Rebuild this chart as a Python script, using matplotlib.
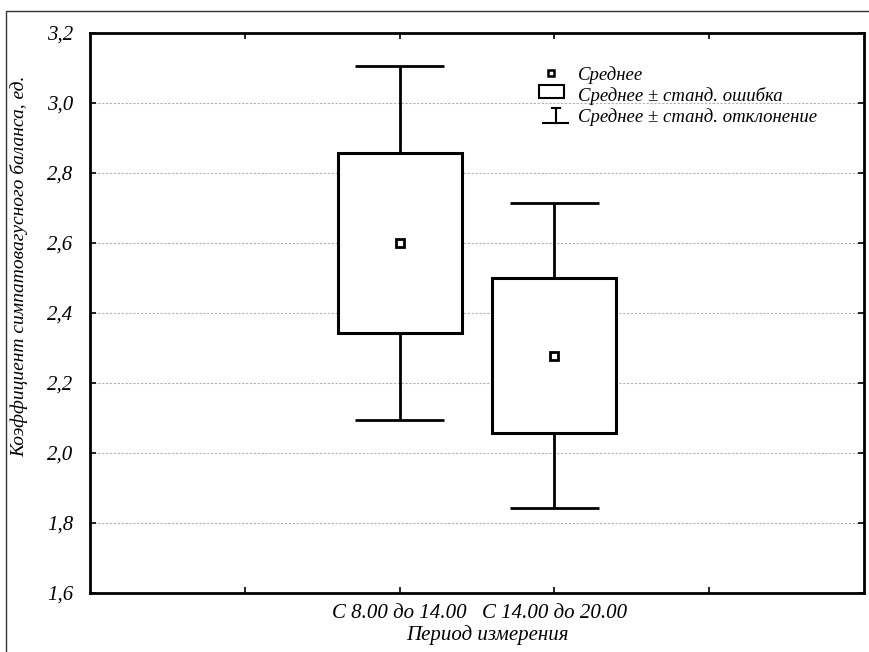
import matplotlib
matplotlib.use('Agg')
import matplotlib.pyplot as plt
from matplotlib.patches import Rectangle
from matplotlib.lines import Line2D

plt.rcParams['font.family'] = ['Liberation Serif', 'DejaVu Serif']
plt.rcParams['font.style'] = 'italic'

# --- данные (среднее, ошибка среднего, стандартное отклонение) ---
categories = ['С 8.00 до 14.00', 'С 14.00 до 20.00']
positions = [2, 3]
means = [2.600, 2.278]
se = [0.256, 0.222]
sd = [0.506, 0.436]
y_ticks = [1.6, 1.8, 2.0, 2.2, 2.4, 2.6, 2.8, 3.0, 3.2]
y_tick_labels = ['1,6', '1,8', '2,0', '2,2', '2,4', '2,6', '2,8', '3,0', '3,2']
legend_labels = ['Среднее', 'Среднее ± станд. ошибка', 'Среднее ± станд. отклонение']

fig = plt.figure(figsize=(8.7, 6.52), dpi=100)
ax = fig.add_axes([90 / 870, 1 - 593 / 652, 774 / 870, 560 / 652])

# рамка вокруг всего рисунка
fig.patches.append(Rectangle((6 / 870, -0.2), 1.2, 1.2 - 11 / 652, transform=fig.transFigure,
                             fill=False, edgecolor='#333333', linewidth=1.0))

# боксы: среднее ± ошибка
for x, m, e in zip(positions, means, se):
    ax.bar(x, 2 * e, bottom=m - e, width=0.8, facecolor='white', edgecolor='black',
           linewidth=2.2, zorder=3)

# усы: среднее ± отклонение
cap = 0.285
for x, m, e, s in zip(positions, means, se, sd):
    ax.vlines(x, m + e, m + s, color='black', linewidth=2.0, zorder=2)
    ax.vlines(x, m - s, m - e, color='black', linewidth=2.0, zorder=2)
    ax.hlines([m + s, m - s], x - cap, x + cap, color='black', linewidth=2.0, zorder=2)

ax.plot(positions, means, linestyle='none', marker='s', markersize=5.5,
        markerfacecolor='white', markeredgecolor='black', markeredgewidth=2.0, zorder=4)

ax.set_xlim(0, 5)
ax.set_ylim(1.6, 3.2)
ax.set_yticks(y_ticks)
ax.set_yticklabels(y_tick_labels, fontsize=15, fontstyle='italic')
ax.set_xticks([1, 2, 3, 4])
ax.set_xticklabels(['', categories[0], categories[1], ''], fontsize=15, fontstyle='italic')
ax.tick_params(direction='in', length=4, width=1.2, top=True, right=True)
ax.tick_params(axis='y', pad=12)
ax.tick_params(axis='x', pad=8)

ax.yaxis.grid(True, linestyle=(0, (2, 1.5)), color='#b0b0b0', linewidth=0.8)
ax.set_axisbelow(True)
for sp in ax.spines.values():
    sp.set_linewidth(2.0)

ax.set_ylabel('Коэффициент симпатовагусного баланса, ед.', fontsize=14, fontstyle='italic')
ax.yaxis.set_label_coords(-0.080, 0.584)
ax.set_xlabel('Период измерения', fontsize=15, fontstyle='italic')
ax.xaxis.set_label_coords(0.513, -0.058)

# легенда
t = ax.transAxes
def fx(px):
    return (px - 90) / 774
def fy(py):
    return (593 - py) / 560

ax.plot([fx(551)], [fy(73)], transform=t, marker='s', markersize=5,
        markerfacecolor='white', markeredgecolor='black', markeredgewidth=1.8, clip_on=False)
ax.add_patch(Rectangle((fx(539), fy(98)), fx(564) - fx(539), fy(85) - fy(98), transform=t,
                       facecolor='white', edgecolor='black', linewidth=1.5))
ax.add_line(Line2D([fx(552), fx(560)], [fy(108), fy(108)], transform=t, color='black', linewidth=1.5))
ax.add_line(Line2D([fx(556), fx(556)], [fy(108), fy(123)], transform=t, color='black', linewidth=1.5))
ax.add_line(Line2D([fx(543), fx(568)], [fy(123), fy(123)], transform=t, color='black', linewidth=1.5))
for lab, py in zip(legend_labels, [75, 96, 117]):
    ax.text(fx(578), fy(py), lab, transform=t, fontsize=13.5, fontstyle='italic',
            va='center', ha='left')

fig.savefig('out.png', dpi=100)
